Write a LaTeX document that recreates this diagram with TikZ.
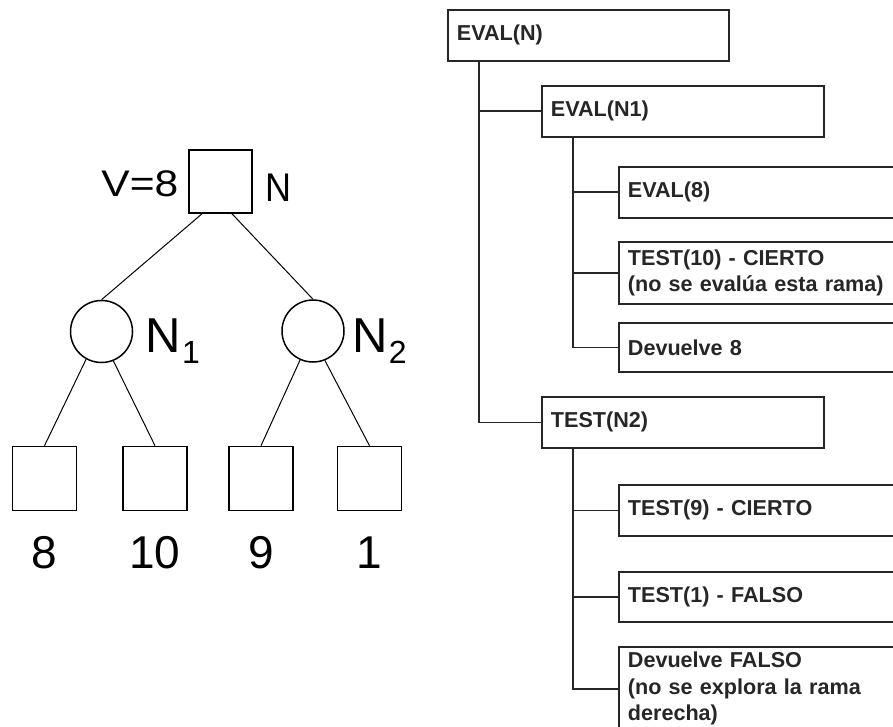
\documentclass[tikz,border=0pt]{standalone}
\usepackage{fontspec}
\setmainfont{Liberation Sans}

\begin{document}
\begin{tikzpicture}[x={(1pt,0pt)}, y={(0pt,-1pt)},
  treeline/.style={line width=1pt},
  maxbox/.style={draw, minimum size=63pt, inner sep=0pt, line width=1.6pt},
  leaf/.style={draw, minimum size=64pt, inner sep=0pt, line width=1.6pt},
  chance/.style={draw, circle, minimum size=62pt, inner sep=0pt, line width=1.5pt},
  callbox/.style={draw=black!85, line width=1.8pt, anchor=north west,
    text width=#1, align=left, inner xsep=9pt, inner ysep=3pt,
    minimum height=51pt, text=black!85,
    font=\fontsize{21.6}{26.5}\selectfont\bfseries},
  callbox/.default=263pt,
  callline/.style={draw=black!85, line width=1.8pt}]

% Page size of the reference
\useasboundingbox (0,0) rectangle (893,727);
\clip (0,0) rectangle (893,727);

% Offset of a trunk from the left side of its box
\def\trunk{32pt}

% Game tree (left)
\node[maxbox] (nroot) at (220.5,181.5) {};
\node[chance] (n1) at (101.5,331.5) {};
\node[chance] (n2) at (313,331) {};

\foreach \name/\x/\val in {la/44.5/8, lb/155/10, lc/261/9, ld/369.5/1} {
    \node[leaf] (\name) at (\x,478.5) {};
    \node[font=\fontsize{46}{46}\selectfont, inner sep=0pt] (\name-val) at (\x,553) {\val};
}

% Labels of the tree
\node[anchor=base east, inner sep=0pt, font=\fontsize{37}{37}\selectfont] (vlabel) at (178.5,197)
  {\scalebox{1.15}[1]{V=8}};
\node[anchor=base west, inner sep=0pt, font=\fontsize{40}{40}\selectfont] (nlabel) at (265,202)
  {\scalebox{0.9}[1]{N}};
\node[anchor=base west, inner sep=0pt, font=\fontsize{49}{49}\selectfont] (n1label) at (145.5,352)
  {N\hspace{1pt}\raisebox{-11pt}{\fontsize{32}{32}\selectfont 1}};
\node[anchor=base west, inner sep=0pt, font=\fontsize{49}{49}\selectfont] (n2label) at (352.3,352)
  {N\hspace{1pt}\raisebox{-11pt}{\fontsize{32}{32}\selectfont 2}};

% Edges of the tree
\draw[treeline] ([xshift=-18.5pt]nroot.south) -- (n1.north);
\draw[treeline] ([xshift=11.5pt]nroot.south) -- (n2.north);
\draw[treeline] (n1.-119) -- (la.north);
\draw[treeline] (n1.-68) -- (lb.north);
\draw[treeline] (n2.-114) -- (lc.north);
\draw[treeline] (n2.-68) -- (ld.north);

% Call boxes (right)
\node[callbox] (evaln) at (447,9) {EVAL(N)};
\node[callbox=264pt] (evaln1) at (541,85) {EVAL(N1)};
\node[callbox=282pt] (eval8) at (618,166) {EVAL(8)};
\node[callbox=282pt, minimum height=62pt] (test10) at (618,241)
  {TEST(10) - CIERTO\\(no se evalúa esta rama)};
\node[callbox=282pt, minimum height=49pt] (dev8) at (618,322) {Devuelve 8};
\node[callbox=264pt] (testn2) at (541,396) {TEST(N2)};
\node[callbox=282pt] (test9) at (618,484) {TEST(9) - CIERTO};
\node[callbox=282pt, minimum height=50pt] (test1) at (618,571) {TEST(1) - FALSO};
\node[callbox=282pt, minimum height=84pt] (devf) at (618,646)
  {Devuelve FALSO\\(no se explora la rama\\derecha)};

% Trunks and branches
\draw[callline] ([xshift=\trunk]evaln.south west) |- (evaln1.west);
\draw[callline] ([xshift=\trunk]evaln.south west) |- (testn2.west);
\foreach \kid in {eval8, test10, dev8}
    \draw[callline] ([xshift=\trunk]evaln1.south west) |- (\kid.west);
\foreach \kid in {test9, test1, devf}
    \draw[callline] ([xshift=\trunk]testn2.south west) |- (\kid.west);

\end{tikzpicture}
\end{document}
